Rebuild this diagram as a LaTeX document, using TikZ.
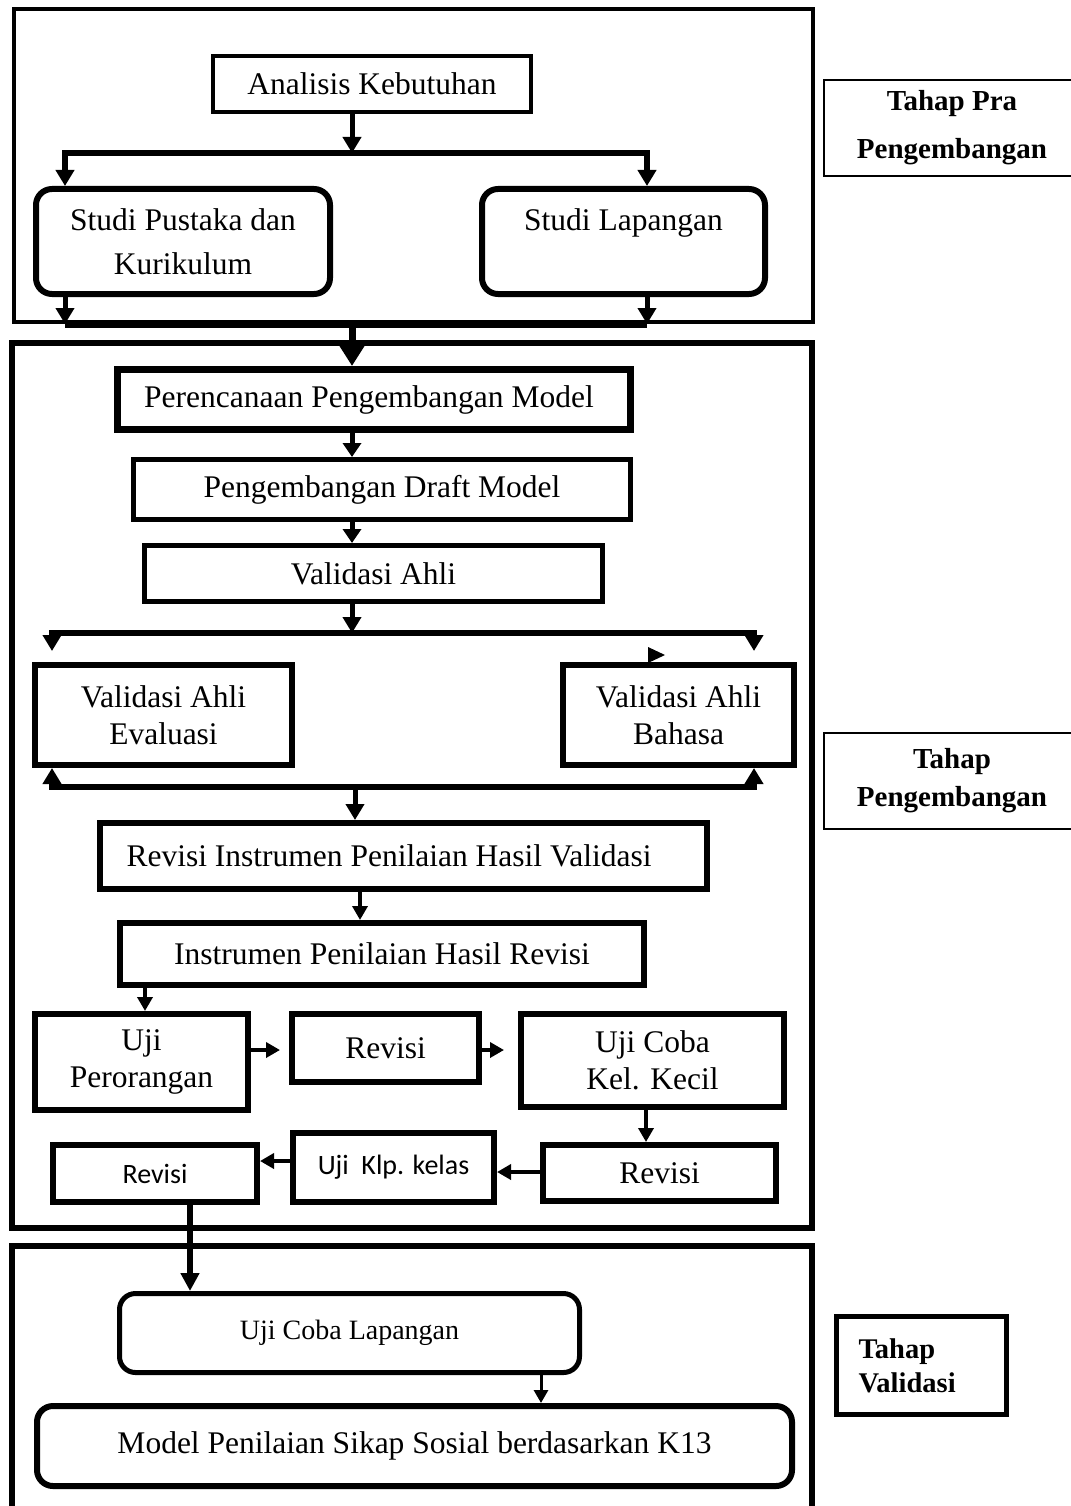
\documentclass[tikz,border=0pt]{standalone}
\usepackage{fontspec}
\setmainfont{Liberation Serif}
\newfontfamily\sansf{Carlito}
\usetikzlibrary{arrows.meta}
\newcommand\mfs{\fontsize{31.5pt}{37pt}\selectfont}
\newcommand\spfs{\fontsize{31.5pt}{44pt}\selectfont}
\newcommand\sansfs{\sansf\fontsize{28pt}{34pt}\selectfont}
\newcommand\ulfs{\fontsize{28pt}{34pt}\selectfont}
\newcommand\lafs{\bfseries\fontsize{29pt}{48pt}\selectfont}
\newcommand\lbfs{\bfseries\fontsize{29pt}{38pt}\selectfont}
\newcommand\lcfs{\bfseries\fontsize{28.5pt}{34pt}\selectfont}
\tikzset{
  box/.style={draw, line width=5pt, inner sep=0pt, align=center, font=\mfs},
  rbox/.style={box, rounded corners=16pt, line width=6pt},
  frame/.style={draw, inner sep=0pt},
  sidebox/.style={draw, line width=2pt, inner sep=0pt, align=center},
  arrA/.style={line width=5pt, -{Triangle[width=18pt,length=16pt]}},
  arrBig/.style={line width=7pt, -{Triangle[width=26pt,length=22pt]}},
  arrM/.style={line width=5pt, -{Triangle[width=18pt,length=14pt]}},
  arrS/.style={line width=3.5pt, -{Triangle[width=15pt,length=14pt]}},
  arrT/.style={line width=6pt, -{Triangle[width=18pt,length=18pt]}},
  arrF/.style={line width=3pt, -{Triangle[width=14pt,length=13pt]}},
  hl/.style={line width=7pt}
}
\begin{document}
\begin{tikzpicture}[x=1pt,y=-1pt]
\useasboundingbox (0,0) rectangle (1070,1506);
% frames
\node[frame, line width=4pt, minimum width=799pt, minimum height=313pt] (fA) at (413.5,165.5) {};
\node[frame, line width=6pt, minimum width=800pt, minimum height=885pt] (fB) at (412,785.5) {};
\draw[line width=6pt] (12,1520) |- (812,1246) -- (812,1520);
% side labels
\node[sidebox, minimum width=256pt, minimum height=96pt, font=\lafs] (lA) at (952,128) {Tahap Pra\\Pengembangan};
\node[sidebox, minimum width=256pt, minimum height=96pt, font=\lbfs] (lB) at (952,781) {Tahap\\Pengembangan};
\node[draw, line width=5pt, inner sep=0pt, minimum width=170pt, minimum height=98pt, text width=126pt, align=left, font=\lcfs] (lC) at (921.5,1365.5) {Tahap\\Validasi};
% nodes
\node[box, line width=4pt, minimum width=318pt, minimum height=56pt] (ak) at (372,84) {Analisis Kebutuhan};
\node[rbox, minimum width=294pt, minimum height=105pt, font=\spfs] (sp) at (183,241.5) {Studi Pustaka dan\\Kurikulum};
\node[rbox, minimum width=283pt, minimum height=105pt, font=\spfs] (sl) at (623.5,241.5) {Studi Lapangan\\\phantom{Kurikulum}};
\node[box, line width=7pt, minimum width=513pt, minimum height=60pt] (pp) at (374,399.5) {Perencanaan Pengembangan Model\hspace{10pt}};
\node[box, minimum width=497pt, minimum height=60pt] (dm) at (382,489.5) {Pengembangan Draft Model};
\node[box, minimum width=458pt, minimum height=56pt] (va) at (373.5,573.5) {Validasi Ahli};
\node[box, line width=6pt, minimum width=257pt, minimum height=100pt] (ve) at (163.5,715) {Validasi Ahli\\Evaluasi};
\node[box, line width=6pt, minimum width=231pt, minimum height=100pt] (vb) at (678.5,715) {Validasi Ahli\\Bahasa};
\node[box, line width=6pt, minimum width=607pt, minimum height=66pt] (ri) at (403.5,856) {Revisi Instrumen Penilaian Hasil Validasi\hspace{29pt}};
\node[box, line width=6pt, minimum width=524pt, minimum height=62pt] (ih) at (382,954) {Instrumen Penilaian Hasil Revisi};
\node[box, line width=6pt, minimum width=213pt, minimum height=96pt] (up) at (141.5,1062) {Uji\\Perorangan};
\node[box, line width=6pt, minimum width=187pt, minimum height=68pt] (r1) at (385.5,1048) {Revisi};
\node[box, line width=6pt, minimum width=263pt, minimum height=93pt] (uc) at (652.5,1060.5) {Uji Coba\\Kel. Kecil};
\node[box, line width=6pt, minimum width=233pt, minimum height=56pt] (r2) at (659.5,1173) {Revisi};
\node[box, line width=6pt, minimum width=201pt, minimum height=69pt, font=\sansfs] (uk) at (393.5,1167.5) {Uji\ \ Klp. kelas};
\node[box, line width=6pt, minimum width=204pt, minimum height=57pt, font=\sansfs] (r3) at (155,1173.5) {Revisi};
\node[rbox, line width=5pt, minimum width=460pt, minimum height=79pt, font=\ulfs] (ul) at (349.5,1333) {Uji Coba Lapangan};
\node[rbox, line width=6pt, minimum width=755pt, minimum height=80pt] (mp) at (414.5,1446) {Model Penilaian Sikap Sosial berdasarkan K13};
% guide coordinates
\coordinate (t1) at (352,153); \coordinate (tl) at (65,153); \coordinate (tr) at (647,153);
\coordinate (bl) at (65,324); \coordinate (br) at (647,324); \coordinate (bm) at (352,324);
\coordinate (vl) at (52,633); \coordinate (vm) at (352,633); \coordinate (vr) at (754,633);
\coordinate (wl) at (52,787); \coordinate (wm) at (355,787); \coordinate (wr) at (754,787);
\coordinate (xa) at (360,0); \coordinate (xb) at (145,0); \coordinate (xc) at (646,0);
\coordinate (xd) at (190,0); \coordinate (xe) at (541,0);
\coordinate (ya) at (0,1050); \coordinate (yb) at (0,1172); \coordinate (yc) at (0,1161);
% connectors: top
\draw[arrA] (ak.south -| t1) -- (t1);
\draw[arrA, line width=6pt] (tr) -- (tl) -- (tl |- sp.north);
\draw[arrA, line width=6pt] (tl) -- (tr) -- (tr |- sl.north);
\draw[arrA] (sp.south -| bl) -- (bl);
\draw[arrA] (sl.south -| br) -- (br);
\draw[hl] (bl) -- (br);
\draw[arrBig] (bm) -- (bm |- pp.north);
\draw[arrM] (pp.south -| t1) -- (dm.north -| t1);
\draw[arrM] (dm.south -| t1) -- (va.north -| t1);
\draw[arrA] (va.south -| vm) -- (vm);
\draw[arrA, line width=6pt, shorten >=11pt] (vr) -- (vl) -- (vl |- ve.north);
\draw[arrA, line width=6pt, shorten >=11pt] (vl) -- (vr) -- (vr |- vb.north);
\fill (648,647) -- (665,655) -- (648,663) -- cycle;
\draw[arrA, line width=6pt] (wr) -- (wl) -- (wl |- ve.south);
\draw[arrA, line width=6pt] (wl) -- (wr) -- (wr |- vb.south);
\draw[arrA] (wm) -- (wm |- ri.north);
% connectors: lower
\draw[arrS] (ri.south -| xa) -- (ih.north -| xa);
\draw[arrS] (ih.south -| xb) -- (up.north -| xb);
\draw[arrS, shorten >=9pt] (up.east |- ya) -- (r1.west |- ya);
\draw[arrS, shorten >=14pt] (r1.east |- ya) -- (uc.west |- ya);
\draw[arrS] (uc.south -| xc) -- (r2.north -| xc);
\draw[arrS] (r2.west |- yb) -- (uk.east |- yb);
\draw[arrS] (uk.west |- yc) -- (r3.east |- yc);
\draw[arrT] (r3.south -| xd) -- (ul.north -| xd);
\draw[arrF] (ul.south -| xe) -- (mp.north -| xe);
\end{tikzpicture}
\end{document}
